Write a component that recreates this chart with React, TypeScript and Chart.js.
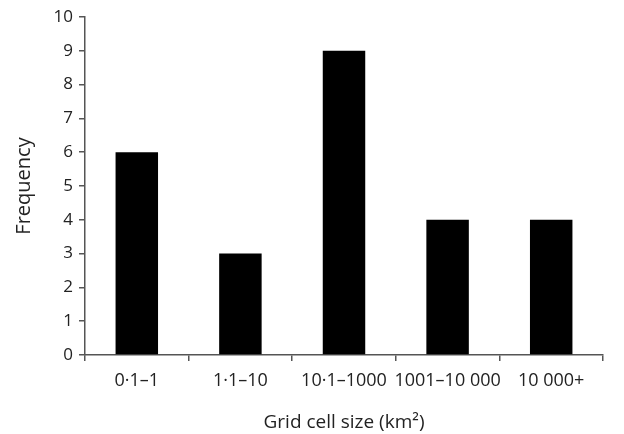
import React, { useEffect, useRef } from "react";
import { Chart, registerables } from "chart.js";

Chart.register(...registerables);

const categories = ["0·1–1", "1·1–10", "10·1–1000", "1001–10 000", "10 000+"];
const frequencies = [6, 3, 9, 4, 4];
const yTitle = "Frequency";
const xTitle = "Grid cell size (km²)";

export default function App() {
  const ref = useRef<HTMLCanvasElement | null>(null);
  useEffect(() => {
    if (!ref.current) return;
    const font = "'Open Sans', 'Noto Sans', sans-serif";
    const chart = new Chart(ref.current, {
      type: "bar",
      data: {
        labels: categories,
        datasets: [
          {
            data: frequencies,
            backgroundColor: "#000000",
            borderWidth: 0,
            categoryPercentage: 1,
            barPercentage: 0.41,
          },
        ],
      },
      options: {
        animation: false,
        responsive: false,
        maintainAspectRatio: false,
        devicePixelRatio: 1,
        layout: { padding: { left: 0, right: 21, top: 17, bottom: 0 } },
        plugins: { legend: { display: false }, tooltip: { enabled: false } },
        scales: {
          x: {
            offset: true,
            border: { color: "#555555", width: 1.5 },
            grid: {
              display: true,
              offset: true,
              drawOnChartArea: false,
              drawTicks: true,
              tickLength: 6,
              color: "#555555",
              lineWidth: 1.5,
            },
            ticks: {
              color: "#222222",
              font: { family: font, size: 18 },
              padding: 9,
              maxRotation: 0,
              autoSkip: false,
            },
            title: {
              display: true,
              text: xTitle,
              color: "#222222",
              font: { family: font, size: 19 },
              padding: { top: 9, bottom: 0 },
            },
            afterFit: (scale: any) => {
              scale.height = 79;
            },
          },
          y: {
            min: 0,
            max: 10,
            border: { color: "#555555", width: 1.5 },
            grid: {
              display: true,
              drawOnChartArea: false,
              drawTicks: true,
              tickLength: 6,
              color: "#555555",
              lineWidth: 1.5,
            },
            ticks: {
              stepSize: 1,
              color: "#222222",
              font: { family: font, size: 17 },
              padding: 6,
            },
            title: {
              display: true,
              text: yTitle,
              color: "#222222",
              font: { family: font, size: 20 },
              padding: { top: 12, bottom: 10 },
            },
            afterFit: (scale: any) => {
              scale.width = 85;
            },
          },
        },
      },
    });
    return () => chart.destroy();
  }, []);
  return (
    <div style={{ position: "fixed", left: 0, top: 0, width: 624, height: 434, background: "#fff" }}>
      <canvas ref={ref} width={624} height={434} style={{ width: 624, height: 434 }} />
    </div>
  );
}
